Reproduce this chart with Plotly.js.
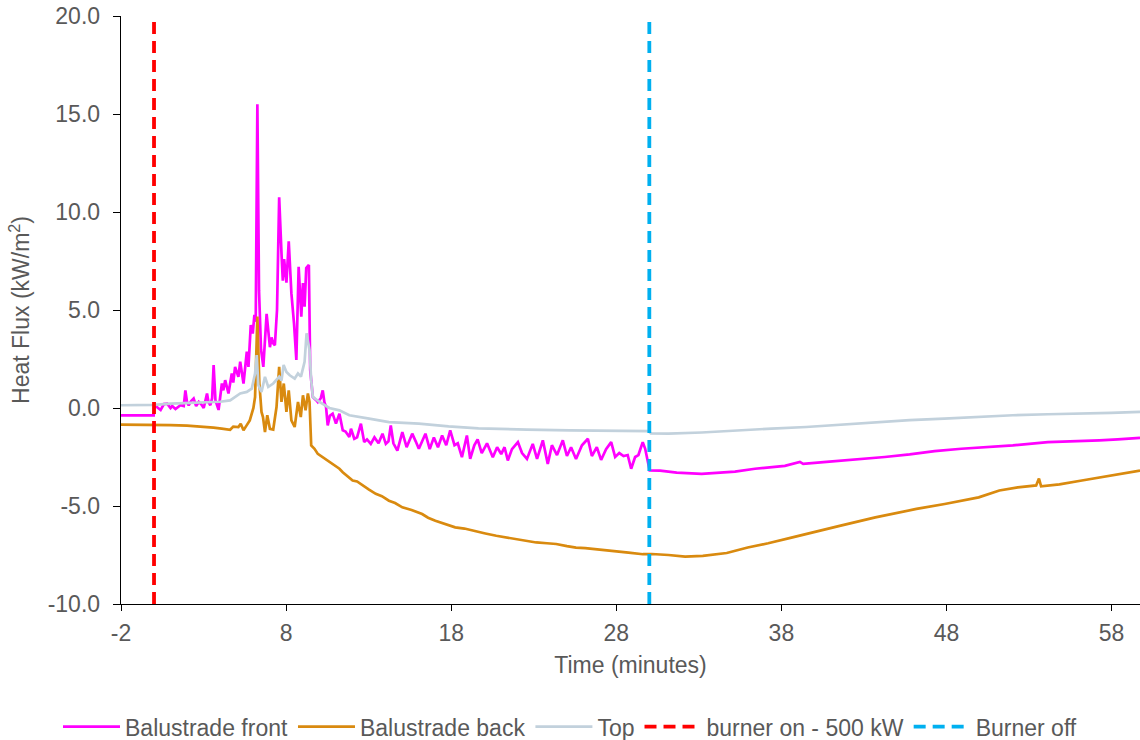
<!DOCTYPE html>
<html>
<head>
<meta charset="utf-8">
<script src="https://cdn.plot.ly/plotly-3.0.1.min.js"></script>
<style>html,body{margin:0;padding:0;background:#fff;}#chart{width:1140px;height:740px;}</style>
</head>
<body>
<div id="chart"></div>
<script>
// Balustrade front (magenta)
const frontT = [-2,-0.02,0.02,0.2,0.4,0.6,0.8,1.0,1.1,1.3,1.6,1.8,1.9,2.0,2.1,2.25,2.4,2.55,2.71,2.85,3.01,3.21,3.3,3.41,3.52,3.61,3.72,3.91,4.0,4.11,4.2,4.31,4.51,4.71,4.8,4.91,5.11,5.22,5.42,5.52,5.62,5.72,5.86,5.98,6.08,6.16,6.26,6.36,6.48,6.62,6.82,7.02,7.12,7.22,7.32,7.45,7.58,7.72,7.8,7.88,8.02,8.16,8.32,8.48,8.62,8.76,8.92,9.02,9.12,9.22,9.38,9.46,9.62,9.82,9.92,10.1,10.22,10.32,10.42,10.52,10.65,10.82,11.02,11.23,11.43,11.6,11.83,11.93,12.13,12.3,12.53,12.73,12.9,13.13,13.35,13.6,13.84,14.04,14.2,14.34,14.5,14.74,15.04,15.3,15.45,15.64,15.85,16.04,16.44,16.7,16.95,17.2,17.45,17.7,17.94,18.2,18.4,18.65,18.95,19.15,19.4,19.6,19.85,20.17,20.52,20.78,21.03,21.23,21.43,21.68,22.04,22.29,22.59,22.94,23.2,23.55,23.85,24.1,24.41,24.76,25.01,25.26,25.56,25.92,26.28,26.52,26.82,27.08,27.38,27.69,27.93,28.18,28.44,28.69,28.9,29.14,29.34,29.6,29.75,29.9,30.02,30.65,31.66,33.17,34.18,35.19,36.4,37.2,38.21,39.12,39.32,40.73,42.45,44.26,45.77,47.28,48.9,50.31,52.02,54.14,55.85,57.26,58.37,59.72];
const frontV = [-0.38,-0.38,0.15,0.05,-0.1,0.2,0.22,0.0,0.1,-0.05,0.14,0.1,0.9,0.3,0.14,0.35,0.48,0.1,0.31,0.2,0.0,0.74,0.3,0.14,0.5,2.19,0.4,-0.1,0.6,1.25,0.9,1.42,0.74,1.76,1.3,2.1,1.59,2.36,1.25,2.2,2.87,2.1,4.23,3.8,4.75,4.4,15.5,6.0,3.0,2.1,4.8,3.1,3.6,3.3,3.2,5.0,10.75,7.9,6.5,7.6,6.4,8.5,5.86,4.3,2.45,7.2,4.66,6.37,5.17,7.14,7.3,1.93,0.56,0.4,0.3,0.5,0.9,0.3,0.05,-0.89,-0.4,-0.29,-0.8,-0.29,-1.14,-1.2,-1.48,-1.06,-1.57,-1.5,-0.8,-1.74,-1.6,-1.83,-1.5,-1.8,-1.31,-1.83,-1.7,-0.89,-1.8,-2.17,-1.23,-2.0,-1.7,-1.31,-1.7,-2.08,-1.31,-2.1,-1.5,-2.0,-1.4,-1.9,-1.14,-1.9,-1.8,-2.51,-1.4,-2.59,-1.9,-1.6,-2.3,-1.8,-2.51,-2.0,-2.35,-2.0,-2.68,-2.1,-1.74,-2.3,-2.6,-1.83,-2.6,-1.65,-2.85,-1.9,-2.4,-1.65,-2.45,-2.0,-2.6,-1.9,-1.57,-2.45,-2.0,-2.65,-2.1,-1.74,-2.5,-2.3,-2.45,-2.4,-3.1,-2.5,-2.4,-1.74,-2.08,-2.76,-3.19,-3.2,-3.3,-3.36,-3.3,-3.25,-3.1,-3.05,-2.95,-2.75,-2.85,-2.75,-2.64,-2.5,-2.37,-2.2,-2.08,-2.0,-1.91,-1.74,-1.7,-1.65,-1.6,-1.52];

// Balustrade back (orange)
const backT = [-2,0,1,2,3,3.6,4.1,4.61,4.8,5.11,5.25,5.42,5.6,5.8,6.02,6.12,6.26,6.38,6.51,6.6,6.72,6.86,7.02,7.22,7.42,7.58,7.72,7.86,8.02,8.16,8.32,8.52,8.72,8.89,9.02,9.18,9.32,9.42,9.52,9.72,9.92,10.22,10.5,10.82,11.23,11.43,11.7,12.03,12.3,12.63,13.0,13.43,13.8,14.23,14.6,15.04,15.6,16.24,16.6,17.04,17.6,18.24,18.8,19.45,20.07,20.73,21.28,21.94,22.59,23.15,23.8,24.36,25.01,25.56,26.12,26.77,27.43,27.98,28.74,29.61,30.15,31.16,32.17,33.24,34.69,35.96,37.2,38.67,40.23,41.59,43.69,46.18,47.89,49.95,51.2,52.32,53.43,53.6,53.73,54.84,56.2,57.87,59.72];
const backV = [-0.85,-0.85,-0.87,-0.9,-0.95,-1.0,-1.05,-1.11,-0.95,-0.97,-0.8,-1.14,-0.9,-0.63,0.0,0.56,4.66,1.25,-0.2,-0.46,-1.23,-0.37,-1.06,-1.1,0.05,2.1,0.31,1.25,-0.2,0.9,-0.63,-0.97,0.31,-0.46,0.65,-0.12,0.74,0.31,-1.91,-2.08,-2.34,-2.51,-2.65,-2.85,-3.1,-3.28,-3.45,-3.7,-3.75,-3.96,-4.15,-4.38,-4.5,-4.73,-4.85,-5.07,-5.2,-5.41,-5.6,-5.75,-5.9,-6.09,-6.15,-6.26,-6.4,-6.52,-6.6,-6.69,-6.8,-6.86,-6.9,-6.94,-7.05,-7.12,-7.15,-7.2,-7.25,-7.29,-7.38,-7.46,-7.45,-7.5,-7.58,-7.54,-7.4,-7.12,-6.9,-6.6,-6.3,-6.0,-5.58,-5.15,-4.9,-4.56,-4.21,-4.05,-3.95,-3.6,-4.0,-3.9,-3.7,-3.45,-3.19];

// Top (grey-blue)
const topT = [-2,0,1,2,3,4,4.61,5.22,5.62,5.92,6.12,6.22,6.32,6.51,6.72,6.92,7.22,7.58,7.72,7.85,8.02,8.22,8.52,8.72,8.9,9.12,9.24,9.42,9.52,9.62,10.02,10.62,11.23,11.83,13.03,14.23,16.04,17.84,19.65,20.32,22.59,25.17,27.63,29.95,30.1,31.16,33.17,35.33,37.41,39.5,41.54,43.69,45.77,47.86,49.9,52.02,54.14,56.2,57.97,59.72];
const topV = [0.14,0.16,0.22,0.25,0.28,0.32,0.39,0.74,0.82,0.99,1.76,2.7,1.16,0.82,1.59,1.08,1.25,1.59,1.4,2.2,1.84,1.67,1.5,1.76,1.6,2.36,3.81,2.95,1.42,0.56,0.31,0.0,-0.12,-0.37,-0.54,-0.72,-0.8,-0.94,-1.04,-1.06,-1.1,-1.14,-1.15,-1.18,-1.3,-1.31,-1.25,-1.14,-1.05,-0.97,-0.85,-0.72,-0.62,-0.54,-0.45,-0.37,-0.32,-0.29,-0.25,-0.2];

// Event markers
const burnerOnT = [0, 0];
const burnerOffT = [30, 30];
const markerY = [-10, 20];

// Tick labels
const xTickVals = [-2, 8, 18, 28, 38, 48, 58];
const xTickText = ["-2", "8", "18", "28", "38", "48", "58"];
const yTickVals = [-10, -5, 0, 5, 10, 15, 20];
const yTickText = ["-10.0", "-5.0", "0.0", "5.0", "10.0", "15.0", "20.0"];

const seriesNames = ["Balustrade front", "Balustrade back", "Top", "burner on - 500 kW", "Burner off"];

const grey = "#595959";
const FONT = "Liberation Sans, Arial, sans-serif";
const FS = 23;

const traces = [
  {x: frontT, y: frontV, name: seriesNames[0], mode: "lines", line: {color: "#FF00FF", width: 2.7}},
  {x: backT, y: backV, name: seriesNames[1], mode: "lines", line: {color: "#D98A0F", width: 2.7}},
  {x: topT, y: topV, name: seriesNames[2], mode: "lines", line: {color: "#C2D1DC", width: 2.7}},
  {x: burnerOnT, y: markerY, name: seriesNames[3], mode: "lines", line: {color: "#FF0000", width: 3.8, dash: "12px,7px"}},
  {x: burnerOffT, y: markerY, name: seriesNames[4], mode: "lines", line: {color: "#00B0F0", width: 3.8, dash: "12px,7px"}}
];

const layout = {
  width: 1140, height: 740,
  margin: {l: 121, r: 0, t: 16, b: 136},
  paper_bgcolor: "#fff", plot_bgcolor: "#fff",
  font: {family: FONT, size: FS, color: grey},
  showlegend: true,
  legend: {orientation: "h", xref: "container", yref: "container", x: 0.5, xanchor: "center",
           y: 0.018, yanchor: "middle",
           font: {family: FONT, size: FS, color: grey}, itemwidth: 57, tracegroupgap: 0},
  xaxis: {
    range: [-2, 59.72], tickmode: "array", tickvals: xTickVals, ticktext: xTickText,
    showgrid: false, zeroline: false,
    showline: true, linecolor: "#000", linewidth: 1.3,
    ticks: "outside", ticklen: 6, tickcolor: "#000", tickwidth: 1,
    ticklabelstandoff: 2,
    tickfont: {family: FONT, size: FS, color: grey},
    title: {text: "Time (minutes)", font: {family: FONT, size: FS, color: grey}, standoff: 12}
  },
  yaxis: {
    range: [-10, 20], tickmode: "array", tickvals: yTickVals, ticktext: yTickText,
    showgrid: false, zeroline: false,
    showline: true, linecolor: "#000", linewidth: 1.3,
    ticks: "outside", ticklen: 7, tickcolor: "#000", tickwidth: 1,
    ticklabelstandoff: 8,
    tickfont: {family: FONT, size: FS, color: grey},
    title: {text: "Heat Flux (kW/m<sup>2</sup>)", font: {family: FONT, size: FS, color: grey}, standoff: 11}
  }
};

Plotly.newPlot("chart", traces, layout, {displayModeBar: false, staticPlot: true});
</script>
</body>
</html>
